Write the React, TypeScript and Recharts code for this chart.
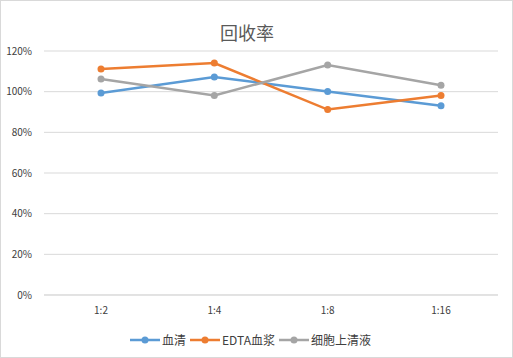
import React from 'react';
import { LineChart, Line, XAxis, YAxis, CartesianGrid, Legend } from 'recharts';

const categories = ['1:2', '1:4', '1:8', '1:16'];
const serum = [99.3, 107.2, 100.1, 93.1];
const edtaPlasma = [111.1, 114.1, 91.2, 98.1];
const cellSupernatant = [106.2, 98.1, 113.1, 103.2];
const yTicks = [0, 20, 40, 60, 80, 100, 120];

const seriesDefs = [
  { key: 'serum', name: '血清', color: '#5B9BD5' },
  { key: 'edta', name: 'EDTA血浆', color: '#ED7D31' },
  { key: 'cell', name: '细胞上清液', color: '#A5A5A5' },
];

const data = categories.map((c, i) => ({
  name: c,
  serum: serum[i],
  edta: edtaPlasma[i],
  cell: cellSupernatant[i],
}));

const FONT = '"Noto Sans CJK SC", "Microsoft YaHei", sans-serif';

function LegendContent() {
  return (
    <div style={{ display: 'flex', justifyContent: 'center', alignItems: 'center', paddingTop: 6, paddingLeft: 6, fontFamily: FONT, fontSize: 12, color: '#404040' }}>
      {seriesDefs.map(s => (
        <div key={s.key} style={{ display: 'flex', alignItems: 'center', marginRight: 4 }}>
          <svg width={30} height={10}>
            <line x1={0} y1={5} x2={30} y2={5} stroke={s.color} strokeWidth={2.5} />
            <circle cx={15} cy={5} r={3.5} fill={s.color} />
          </svg>
          <span style={{ marginLeft: 2 }}>{s.name}</span>
        </div>
      ))}
    </div>
  );
}

export default function App() {
  return (
    <div style={{ position: 'absolute', left: 0, top: 0, width: 513, height: 358, background: '#fff', boxSizing: 'border-box', border: '1px solid #D9D9D9' }}>
      <div style={{ position: 'absolute', left: 0, width: 492, top: 19, textAlign: 'center', fontFamily: FONT, fontSize: 18, color: '#595959', lineHeight: '24px' }}>
        回收率
      </div>
      <LineChart
        width={511}
        height={356}
        data={data}
        margin={{ top: 50, right: 14, left: 0, bottom: 4 }}
        style={{ position: 'absolute', left: 0, top: 0 }}
      >
        <CartesianGrid vertical={false} stroke="#D9D9D9" />
        <XAxis
          dataKey="name"
          axisLine={{ stroke: '#D9D9D9' }}
          tickLine={false}
          tick={{ fill: '#404040', fontSize: 10, fontFamily: FONT }}
          tickMargin={6}
          height={30}
          padding={{ left: 57, right: 57 }}
        />
        <YAxis
          domain={[0, 120]}
          ticks={yTicks}
          tickFormatter={v => `${v}%`}
          axisLine={false}
          tickLine={false}
          tick={{ fill: '#404040', fontSize: 10, fontFamily: FONT }}
          width={43}
          tickMargin={6}
        />
        <Legend verticalAlign="bottom" height={28} content={<LegendContent />} />
        {seriesDefs.map(s => (
          <Line
            key={s.key}
            type="linear"
            dataKey={s.key}
            name={s.name}
            stroke={s.color}
            strokeWidth={2.5}
            dot={{ r: 3.5, fill: s.color, stroke: s.color, strokeWidth: 0 }}
            isAnimationActive={false}
          />
        ))}
      </LineChart>
    </div>
  );
}
